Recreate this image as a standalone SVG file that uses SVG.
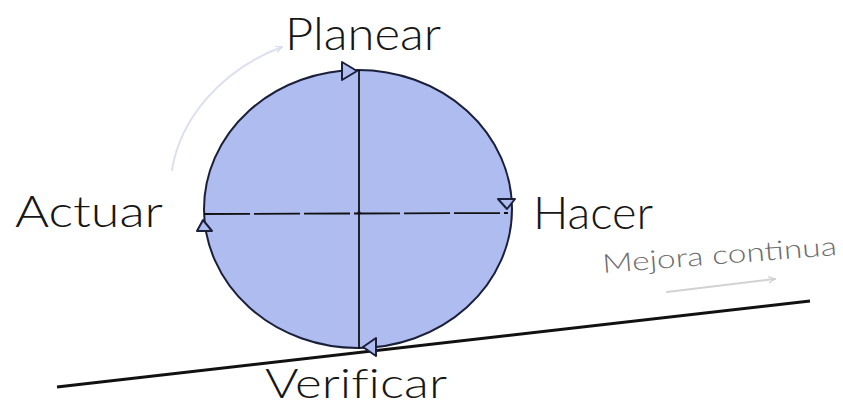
<svg xmlns="http://www.w3.org/2000/svg" width="843" height="408" viewBox="0 0 843 408">
<style>
.lbl{font-family:"Lato","Open Sans","Liberation Sans",sans-serif;font-weight:300;fill:#161616;font-variant-ligatures:none;}
.axis{stroke:#111;stroke-width:1.8;fill:none;}
.tri{fill:#aebcf0;stroke:#1a1f3a;stroke-width:2;stroke-linejoin:round;}
.faint{fill:none;stroke-width:2;stroke-linecap:round;}
</style>
<defs>
<marker id="ahLav" viewBox="0 0 10 10" refX="9" refY="5" markerWidth="8" markerHeight="8" orient="auto" markerUnits="userSpaceOnUse">
<path d="M1 1 L9 5 L1 9" fill="none" stroke="#d8dcef" stroke-width="1.5"/>
</marker>
<marker id="ahGray" viewBox="0 0 10 10" refX="9" refY="5" markerWidth="8" markerHeight="8" orient="auto" markerUnits="userSpaceOnUse">
<path d="M1 1 L9 5 L1 9" fill="none" stroke="#cfcfcf" stroke-width="1.5"/>
</marker>
</defs>
<rect width="843" height="408" fill="#ffffff"/>
<g id="ciclo">
<ellipse cx="358" cy="209" rx="154" ry="139" fill="#aebcf0" stroke="#1a1f3a" stroke-width="2"/>
</g>
<g id="connectors">
<line class="axis" x1="359" y1="70" x2="359" y2="349"/>
<line class="axis" x1="204" y1="214" x2="508" y2="213" stroke-dasharray="46 4"/>
<circle cx="359" cy="213" r="1.8" fill="#111"/>
<line x1="57" y1="387" x2="810" y2="301" stroke="#111" stroke-width="3"/>
<polygon class="tri" points="342,62 342,80 357,71"/>
<polygon class="tri" points="498,199 515,199 507,209"/>
<polygon class="tri" points="203,220 197,231 212,231"/>
<polygon class="tri" points="363,347 376,338 376,356"/>
<path class="faint" d="M172 170 C180 120 220 70 282 47" stroke="#dcdff0" marker-end="url(#ahLav)"/>
<path class="faint" d="M667 292 L775 279" stroke="#d2d2d2" marker-end="url(#ahGray)"/>
</g>
<g id="planear"><text class="lbl" x="285" y="50" font-size="45" textLength="156" lengthAdjust="spacingAndGlyphs">Planear</text></g>
<g id="hacer"><text class="lbl" x="533" y="229" font-size="46" textLength="120" lengthAdjust="spacingAndGlyphs">Hacer</text></g>
<g id="actuar"><text class="lbl" x="15" y="227" font-size="44" textLength="148" lengthAdjust="spacingAndGlyphs">Actuar</text></g>
<g id="verificar"><text class="lbl" x="265" y="398" font-size="42" textLength="182" lengthAdjust="spacingAndGlyphs">Verificar</text></g>
<g id="mejora"><text x="603" y="273" font-family="Lato, Liberation Sans, sans-serif" font-weight="300" font-size="26" fill="#6e6e6e" textLength="235" lengthAdjust="spacingAndGlyphs" transform="rotate(-4.4 603 273)">Mejora continua</text></g>
</svg>
